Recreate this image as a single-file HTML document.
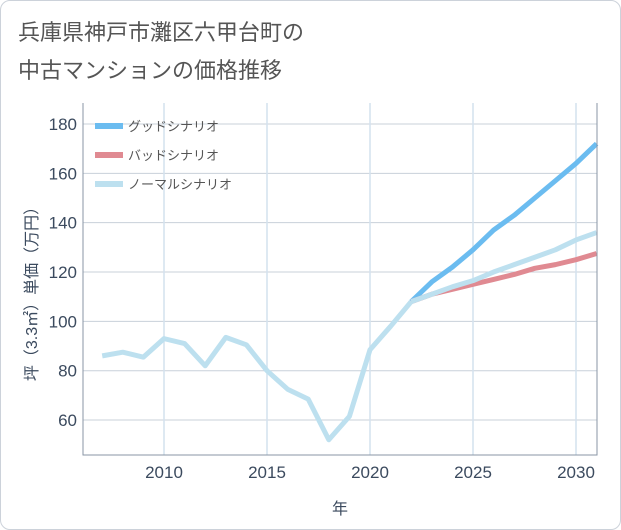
<!DOCTYPE html>
<html><head><meta charset="utf-8"><style>
body{margin:0;background:#fff;}
#c{position:relative;width:619px;height:528px;border:1px solid #ccd2da;border-radius:10px;background:#fff;overflow:hidden;font-family:"Liberation Sans","Noto Sans CJK JP",sans-serif;}
</style></head><body>
<div id="c">
<svg id="s" width="621" height="530" style="position:absolute;left:-1px;top:-1px">
<text x="18" y="40" font-size="22" fill="#555" font-family="Liberation Sans,Noto Sans CJK JP,sans-serif">兵庫県神戸市灘区六甲台町の</text>
<text x="18" y="78" font-size="22" fill="#555" font-family="Liberation Sans,Noto Sans CJK JP,sans-serif">中古マンションの価格推移</text>
<g id="grid"></g><g id="marks"></g><g id="axes"></g>
</svg>
</div>
<script>
const years=[2007,2008,2009,2010,2011,2012,2013,2014,2015,2016,2017,2018,2019,2020,2021,2022];
const history=[86,87.5,85.5,93,91,82,93.5,90.5,80,72.5,68.5,52,61.5,88.5,98,108];
const futureYears=[2022,2023,2024,2025,2026,2027,2028,2029,2030,2031];
const good=[108,116,122,129,137,143,150,157,164,172];
const bad=[108,111,113,115,117,119,121.5,123,125,127.5];
const normal=[108,111,114,116.5,120,123,126,129,133,136];
const yTicks=[60,80,100,120,140,160,180];
const xTicks=[2010,2015,2020,2025,2030];
const NS='http://www.w3.org/2000/svg';
const L=83,R=597,T=103,B=455;
const x=v=>164+(v-2010)*20.6;
const y=v=>124+(180-v)*2.467;
function mk(tag,attrs,parent){const e=document.createElementNS(NS,tag);for(const k in attrs)e.setAttribute(k,attrs[k]);document.getElementById(parent).appendChild(e);return e;}
yTicks.forEach(t=>{
 const l=mk('line',{x1:L,x2:R,y1:y(t),y2:y(t),stroke:'#c8d0da','stroke-width':1},'grid');
 
 
 const tx=mk('text',{x:L-6,y:y(t)+6,'text-anchor':'end','font-size':17,fill:'#3b4a5e'},'axes');
 tx.textContent=t;
 
 
});
xTicks.forEach(t=>{
 const l=mk('line',{x1:x(t),x2:x(t),y1:T,y2:B,stroke:'#d4e2ee','stroke-width':1.5},'grid');
 
 
 const tx=mk('text',{x:x(t),y:B+23,'text-anchor':'middle','font-size':17,fill:'#3b4a5e'},'axes');
 tx.textContent=t;
 
 
});
const frame=mk('path',{d:`M${L} ${T}V${B}H${R}V${T}`,fill:'none',stroke:'#8a96a6','stroke-width':1},'axes');


function line(xs,vs,color,name){
 const p=mk('polyline',{points:xs.map((v,i)=>x(v)+','+y(vs[i])).join(' '),fill:'none',stroke:color,'stroke-width':5,'stroke-linejoin':'round'},'marks');
 
 
}
line(futureYears,good,'#6bbcf0','good-scenario-line');
line(futureYears,bad,'#e08a92','bad-scenario-line');
line(futureYears,normal,'#bde0ef','normal-scenario-line');
line(years,history,'#bde0ef','history-line');
const leg=[['グッドシナリオ','#6bbcf0'],['バッドシナリオ','#e08a92'],['ノーマルシナリオ','#bde0ef']];
leg.forEach((e,i)=>{
 const yy=126+i*29;
 const r=mk('rect',{x:95,y:yy-3,width:28,height:6,fill:e[1]},'axes');
 
 
 const t=mk('text',{x:128,y:yy+5,'font-size':13,fill:'#555'},'axes');
 t.textContent=e[0];
 
 
});
const xt=mk('text',{x:340,y:514,'text-anchor':'middle','font-size':16,fill:'#3b4a5e'},'axes');
xt.textContent='年';


const yt=mk('text',{x:0,y:0,'text-anchor':'middle','font-size':16,fill:'#3b4a5e',transform:'translate(37,290) rotate(-90)'},'axes');
yt.textContent='坪（3.3㎡）単価（万円）';


</script>
</body></html>
